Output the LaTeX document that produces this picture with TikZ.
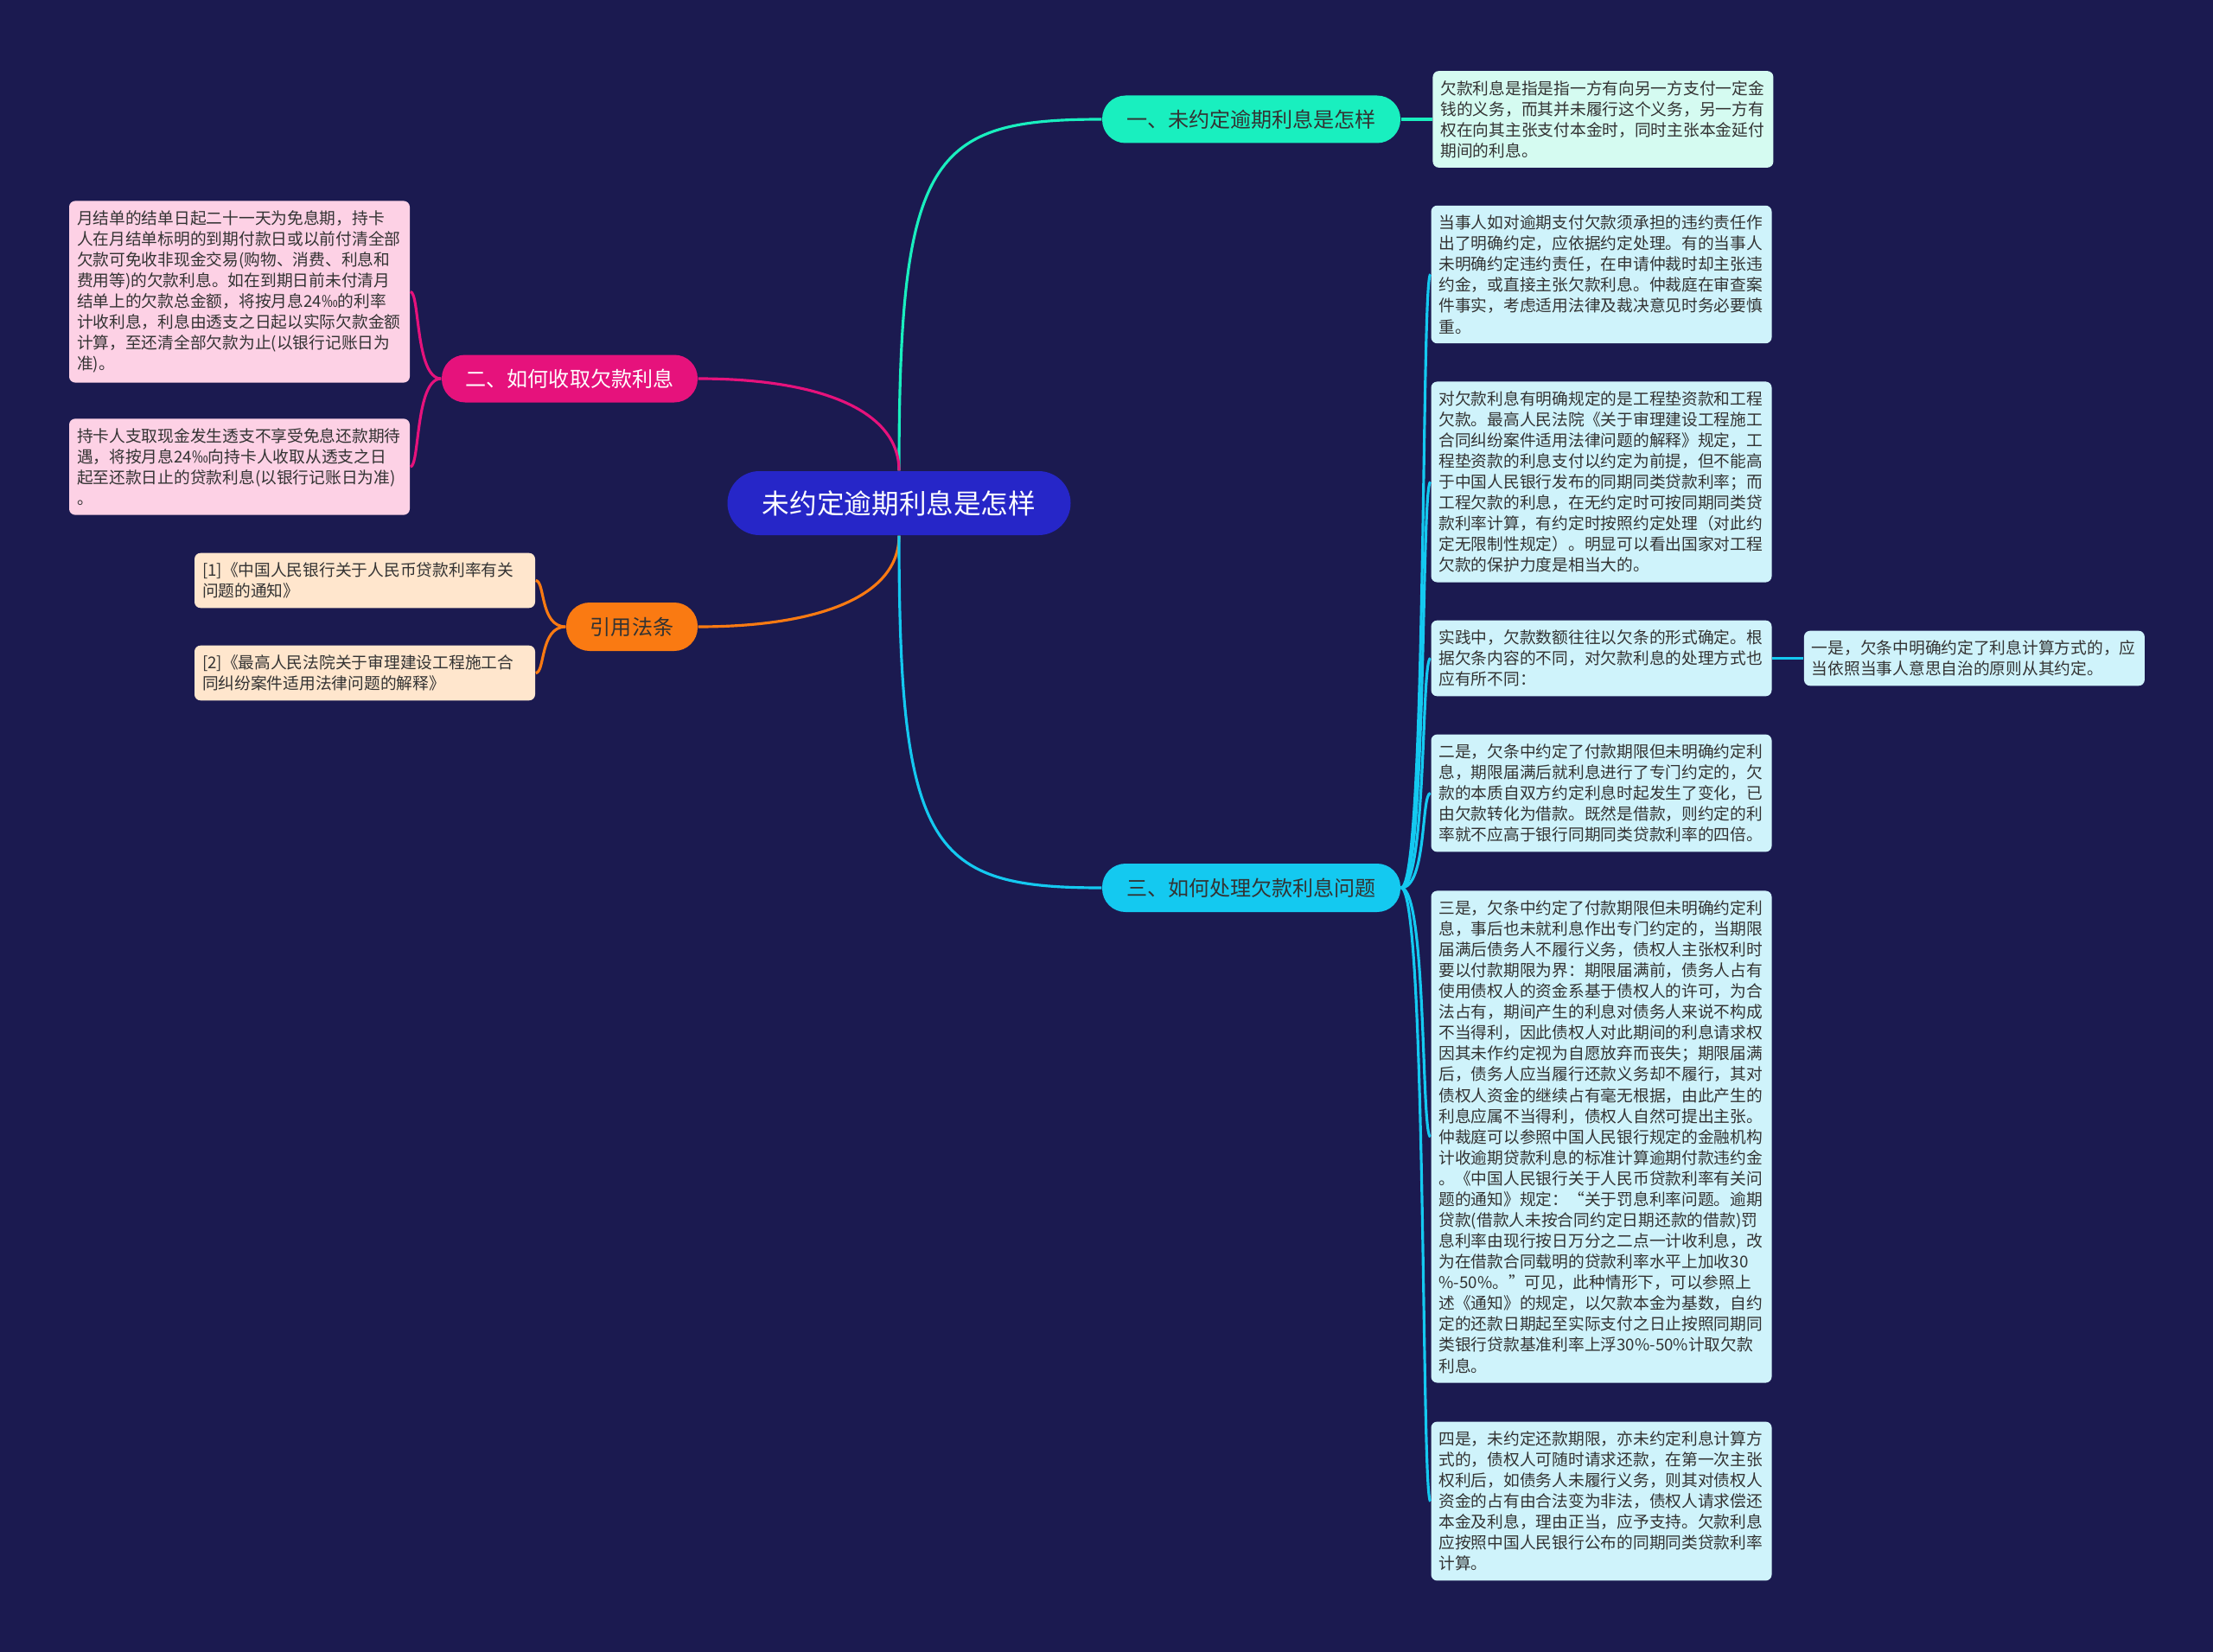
\documentclass[tikz,border=0pt]{standalone}
\usepackage{fontspec}
\setmainfont{Noto Sans CJK SC}
\usepackage{tikz}
\usetikzlibrary{positioning}
\setlength{\parindent}{0pt}

\definecolor{bgnavy}{HTML}{1B1A50}
\definecolor{rootblue}{HTML}{2626C8}
\definecolor{mint}{HTML}{19EFBF}
\definecolor{mintleaf}{HTML}{D5FBF1}
\definecolor{magenta}{HTML}{E6127C}
\definecolor{pinkleaf}{HTML}{FDD1E5}
\definecolor{orangetopic}{HTML}{FA7A12}
\definecolor{peachleaf}{HTML}{FFE6CD}
\definecolor{cyantopic}{HTML}{14C9F0}
\definecolor{cyanleaf}{HTML}{CFF3FB}
\definecolor{leaftext}{HTML}{333333}

\begin{document}
\begin{tikzpicture}[
    root/.style={fill=rootblue, text=white, rounded corners=0.37cm,
        minimum width=3.97cm, minimum height=0.74cm, inner sep=0pt,
        font=\fontsize{9}{11}\selectfont},
    topic/.style={rounded corners=0.27cm, minimum height=0.55cm,
        inner sep=0pt, text=leaftext, font=\fontsize{6.85}{8}\selectfont},
    leaf/.style={rounded corners=0.07cm, text width=3.76cm,
        inner xsep=0.09cm, inner ysep=0.11cm, align=left, text=leaftext,
        font=\fontsize{5.33}{6.85}\selectfont},
    link/.style={line width=0.9pt}
]
    % Page and background
    \fill[bgnavy] (0,0) rectangle (25.6,-19.11);
    \useasboundingbox (0,0) rectangle (25.6,-19.11);

    % Central topic
    \node [root] (main) at (10.40,-5.82) {未约定逾期利息是怎样};

    % Topics
    \node [topic, fill=mint, minimum width=3.45cm] (t1) at (14.475,-1.38)
        {一、未约定逾期利息是怎样};
    \node [topic, fill=magenta, text=white, minimum width=2.96cm] (t2) at (6.59,-4.38)
        {二、如何收取欠款利息};
    \node [topic, fill=orangetopic, minimum width=1.52cm, minimum height=0.56cm] (t4) at (7.31,-7.25)
        {引用法条};
    \node [topic, fill=cyantopic, minimum width=3.45cm, minimum height=0.56cm] (t3) at (14.475,-10.27)
        {三、如何处理欠款利息问题};

    % Leaves of topic 1
    \node [leaf, fill=mintleaf, right=0.36cm of t1] (t1a) {
        欠款利息是指是指一方有向另一方支付一定金\\
        钱的义务，而其并未履行这个义务，另一方有\\
        权在向其主张支付本金时，同时主张本金延付\\
        期间的利息。
    };

    % Leaves of topic 2
    \node [leaf, fill=pinkleaf] (t2a) at (2.77,-3.375) {
        月结单的结单日起二十一天为免息期，持卡\\
        人在月结单标明的到期付款日或以前付清全部\\
        欠款可免收非现金交易(购物、消费、利息和\\
        费用等)的欠款利息。如在到期日前未付清月\\
        结单上的欠款总金额，将按月息24‰的利率\\
        计收利息，利息由透支之日起以实际欠款金额\\
        计算，至还清全部欠款为止(以银行记账日为\\
        准)。
    };
    \node [leaf, fill=pinkleaf] (t2b) at (2.77,-5.40) {
        持卡人支取现金发生透支不享受免息还款期待\\
        遇，将按月息24‰向持卡人收取从透支之日\\
        起至还款日止的贷款利息(以银行记账日为准)\\
        。
    };

    % Leaves of the citations
    \node [leaf, fill=peachleaf] (t4a) at (4.22,-6.715) {
        [1]《中国人民银行关于人民币贷款利率有关\\
        问题的通知》
    };
    \node [leaf, fill=peachleaf] (t4b) at (4.22,-7.785) {
        [2]《最高人民法院关于审理建设工程施工合\\
        同纠纷案件适用法律问题的解释》
    };

    % Leaves of topic 3
    \node [leaf, fill=cyanleaf] (t3a) at (18.525,-3.175) {
        当事人如对逾期支付欠款须承担的违约责任作\\
        出了明确约定，应依据约定处理。有的当事人\\
        未明确约定违约责任，在申请仲裁时却主张违\\
        约金，或直接主张欠款利息。仲裁庭在审查案\\
        件事实，考虑适用法律及裁决意见时务必要慎\\
        重。
    };
    \node [leaf, fill=cyanleaf] (t3b) at (18.525,-5.575) {
        对欠款利息有明确规定的是工程垫资款和工程\\
        欠款。最高人民法院《关于审理建设工程施工\\
        合同纠纷案件适用法律问题的解释》规定，工\\
        程垫资款的利息支付以约定为前提，但不能高\\
        于中国人民银行发布的同期同类贷款利率；而\\
        工程欠款的利息，在无约定时可按同期同类贷\\
        款利率计算，有约定时按照约定处理（对此约\\
        定无限制性规定）。明显可以看出国家对工程\\
        欠款的保护力度是相当大的。
    };
    \node [leaf, fill=cyanleaf] (t3c) at (18.525,-7.615) {
        实践中，欠款数额往往以欠条的形式确定。根\\
        据欠条内容的不同，对欠款利息的处理方式也\\
        应有所不同：
    };
    \node [leaf, fill=cyanleaf, right=0.36cm of t3c] (t3c1) {
        一是，欠条中明确约定了利息计算方式的，应\\
        当依照当事人意思自治的原则从其约定。
    };
    \node [leaf, fill=cyanleaf] (t3d) at (18.525,-9.175) {
        二是，欠条中约定了付款期限但未明确约定利\\
        息，期限届满后就利息进行了专门约定的，欠\\
        款的本质自双方约定利息时起发生了变化，已\\
        由欠款转化为借款。既然是借款，则约定的利\\
        率就不应高于银行同期同类贷款利率的四倍。
    };
    \node [leaf, fill=cyanleaf] (t3e) at (18.525,-13.15) {
        三是，欠条中约定了付款期限但未明确约定利\\
        息，事后也未就利息作出专门约定的，当期限\\
        届满后债务人不履行义务，债权人主张权利时\\
        要以付款期限为界：期限届满前，债务人占有\\
        使用债权人的资金系基于债权人的许可，为合\\
        法占有，期间产生的利息对债务人来说不构成\\
        不当得利，因此债权人对此期间的利息请求权\\
        因其未作约定视为自愿放弃而丧失；期限届满\\
        后，债务人应当履行还款义务却不履行，其对\\
        债权人资金的继续占有毫无根据，由此产生的\\
        利息应属不当得利，债权人自然可提出主张。\\
        仲裁庭可以参照中国人民银行规定的金融机构\\
        计收逾期贷款利息的标准计算逾期付款违约金\\
        。《中国人民银行关于人民币贷款利率有关问\\
        题的通知》规定：“关于罚息利率问题。逾期\\
        贷款(借款人未按合同约定日期还款的借款)罚\\
        息利率由现行按日万分之二点一计收利息，改\\
        为在借款合同载明的贷款利率水平上加收30\\
        \%-50\%。”可见，此种情形下，可以参照上\\
        述《通知》的规定，以欠款本金为基数，自约\\
        定的还款日期起至实际支付之日止按照同期同\\
        类银行贷款基准利率上浮30\%-50\%计取欠款\\
        利息。
    };
    \node [leaf, fill=cyanleaf] (t3f) at (18.525,-17.365) {
        四是，未约定还款期限，亦未约定利息计算方\\
        式的，债权人可随时请求还款，在第一次主张\\
        权利后，如债务人未履行义务，则其对债权人\\
        资金的占有由合法变为非法，债权人请求偿还\\
        本金及利息，理由正当，应予支持。欠款利息\\
        应按照中国人民银行公布的同期同类贷款利率\\
        计算。
    };

    % Connectors from the central topic
    \draw[link, mint] (main.north) .. controls +(0,3.65) and +(-1.97,0) .. (t1.west);
    \draw[link, magenta] (main.north) .. controls +(0,0.7) and +(1.4,0) .. (t2.east);
    \draw[link, orangetopic] (main.south) .. controls +(0,-0.7) and +(1.4,0) .. (t4.east);
    \draw[link, cyantopic] (main.south) .. controls +(0,-3.65) and +(-1.97,0) .. (t3.west);

    % Connectors to the leaves
    \draw[link, mint] (t1.east) -- (t1a.west);
    \foreach \leaf in {t2a,t2b} {
        \draw[link, magenta] (t2.west) .. controls +(-0.30,0) and +(0.11,0) .. (\leaf.east);
    }
    \foreach \leaf in {t4a,t4b} {
        \draw[link, orangetopic] (t4.west) .. controls +(-0.30,0) and +(0.11,0) .. (\leaf.east);
    }
    \foreach \leaf in {t3a,t3b,t3c,t3d,t3e,t3f} {
        \draw[link, cyantopic] (t3.east) .. controls +(0.30,0) and +(-0.11,0) .. (\leaf.west);
    }
    \draw[link, cyantopic] (t3c.east) -- (t3c1.west);

\end{tikzpicture}
\end{document}
